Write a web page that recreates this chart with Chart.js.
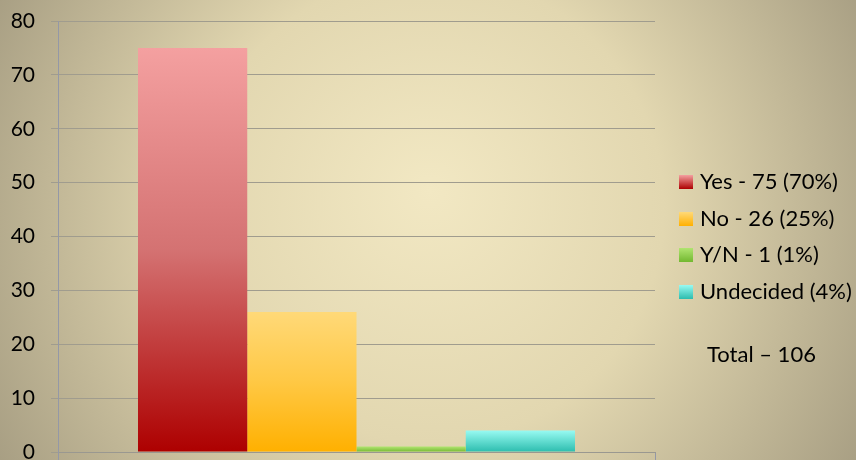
<!DOCTYPE html>
<html>
<head>
<meta charset="utf-8">
<script src="https://cdn.jsdelivr.net/npm/chart.js@4"></script>
<style>
   html, body { margin: 0; padding: 0; background: #d8cfae; }
   .wrap { width: 856px; height: 460px; position: relative; }
</style>
</head>
<body>
<div class="wrap"><canvas id="chart" width="856" height="460"></canvas></div>
<script>
// data
const categories = [''];
const seriesNames = ['Yes - 75 (70%)', 'No - 26 (25%)', 'Y/N - 1 (1%)', 'Undecided (4%)'];
const yesValues = [75];
const noValues = [26];
const ynValues = [1];
const undecidedValues = [4];
const totalText = 'Total \u2013 106';
const yTicks = [0, 10, 20, 30, 40, 50, 60, 70, 80];

// top / middle / bottom gradient colours per series
const topColors = ['#f4a0a0', '#ffd978', '#b0e470', '#98faf2'];
const midColors = ['#d47272', '#ffc844', '#92ce50', '#62dcd0'];
const bottomColors = ['#ad0000', '#ffb000', '#72b830', '#2cbcae'];

const FONT = 'Lato, "Open Sans", sans-serif';

function barGradient(i) {
   return function (context) {
      const chart = context.chart;
      if (!chart.chartArea || !chart.scales.y) return bottomColors[i];
      const y = chart.scales.y;
      const v = context.raw || 0;
      const top = y.getPixelForValue(v);
      const base = y.getPixelForValue(0);
      if (!isFinite(top) || top === base) return bottomColors[i];
      const g = chart.ctx.createLinearGradient(0, top, 0, base);
      g.addColorStop(0, topColors[i]);
      g.addColorStop(0.5, midColors[i]);
      g.addColorStop(1, bottomColors[i]);
      return g;
   };
}

// background + side legend
const decorPlugin = {
   id: 'decor',
   beforeDraw(chart) {
      const ctx = chart.ctx;
      ctx.save();
      const g = ctx.createRadialGradient(430, 190, 0, 430, 230, 520);
      g.addColorStop(0, '#f2e8c3');
      g.addColorStop(0.45, '#e2d7b0');
      g.addColorStop(1, '#a1987e');
      ctx.fillStyle = g;
      ctx.fillRect(0, 0, chart.width, chart.height);
      ctx.restore();
   },
   afterDraw(chart) {
      const ctx = chart.ctx;
      ctx.save();
      ctx.font = '22px ' + FONT;
      ctx.textBaseline = 'middle';
      const rows = [182, 219, 255, 292];
      seriesNames.forEach((name, i) => {
         const cy = rows[i];
         const g = ctx.createLinearGradient(0, cy - 7, 0, cy + 7);
         g.addColorStop(0, topColors[i]);
         g.addColorStop(1, bottomColors[i]);
         ctx.fillStyle = g;
         ctx.fillRect(679, cy - 7, 14, 14);
         ctx.fillStyle = '#000';
         ctx.fillText(name, 700, cy);
      });
      ctx.fillText(totalText, 707, 355);
      ctx.restore();
   }
};

const ctx = document.getElementById('chart').getContext('2d');

new Chart(ctx, {
   type: 'bar',
   data: {
      labels: categories,
      datasets: [
         { label: seriesNames[0], data: yesValues, backgroundColor: barGradient(0) },
         { label: seriesNames[1], data: noValues, backgroundColor: barGradient(1) },
         { label: seriesNames[2], data: ynValues, backgroundColor: barGradient(2) },
         { label: seriesNames[3], data: undecidedValues, backgroundColor: barGradient(3) },
      ],
   },
   options: {
      responsive: false,
      animation: false,
      categoryPercentage: 0.732,
      barPercentage: 1,
      layout: {
         padding: { top: 21, right: 201, bottom: 0, left: 0 },
      },
      scales: {
         x: {
            grid: {
               drawOnChartArea: false,
               tickLength: 8,
               color: '#9498a6',
            },
            border: { color: '#9a9890' },
            ticks: { display: false },
            afterFit: function (scale) {
               scale.height = 8;
               scale.paddingLeft = 0;
               scale.paddingRight = 0;
            },
         },
         y: {
            min: 0,
            max: 80,
            afterBuildTicks: function (scale) {
               scale.ticks = yTicks.map(v => ({ value: v }));
            },
            grid: {
               color: '#a09c8e',
               tickLength: 7,
            },
            border: { color: '#9498a6' },
            ticks: {
               padding: 16,
               color: '#000',
               font: { size: 21, family: FONT },
            },
            afterFit: function (scale) {
               scale.width = 58;
               scale.paddingTop = 0;
               scale.paddingBottom = 0;
            },
         },
      },
      plugins: {
         legend: { display: false },
         tooltip: { enabled: false },
      },
   },
   plugins: [decorPlugin],
});
</script>
</body>
</html>
